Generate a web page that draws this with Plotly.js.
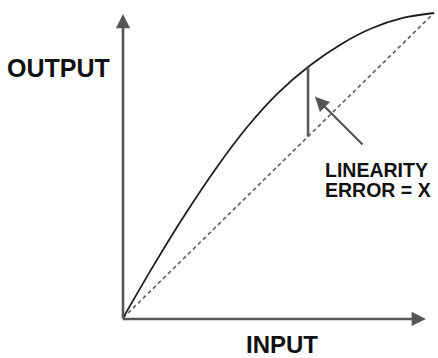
<!DOCTYPE html>
<html>
<head>
<meta charset="utf-8">
<script src="https://cdn.plot.ly/plotly-3.0.1.min.js"></script>
<style>html,body{margin:0;padding:0;background:#fff;}#chart{width:438px;height:358px;}</style>
</head>
<body>
<div id="chart"></div>
<script>
// Actual (non-linear) transfer curve
const inputValues  = [0, 10, 20, 30, 40, 50, 60, 70, 80, 90, 100];
const outputValues = [0, 17.5, 34.0, 49.2, 62.7, 73.9, 82.7, 89.7, 95.0, 98.4, 100];
// Ideal straight line (end-point)
const idealInput  = [0, 100];
const idealOutput = [0, 100];
// Linearity error marker
const errorInput = [59.5, 59.5];
const errorOutput = [59.5, 82.4];
// Labels
const xLabel = "INPUT";
const yLabel = "OUTPUT";
const noteLine1 = "LINEARITY";
const noteLine2 = "ERROR = X";

const FONT = "Liberation Sans, Arial, sans-serif";

const traces = [
  { x: idealInput, y: idealOutput, mode: "lines", type: "scatter",
    line: { color: "#666666", width: 1.7, dash: "4px,3px" }, hoverinfo: "skip" },
  { x: inputValues, y: outputValues, mode: "lines", type: "scatter",
    line: { color: "#1e1e1e", width: 1.8, shape: "spline", smoothing: 1 }, hoverinfo: "skip" },
  { x: errorInput, y: errorOutput, mode: "lines", type: "scatter",
    line: { color: "#5a5a5a", width: 2.6 }, hoverinfo: "skip" }
];

const layout = {
  width: 438, height: 358,
  margin: { l: 0, r: 0, t: 0, b: 0, pad: 0 },
  paper_bgcolor: "#ffffff", plot_bgcolor: "#ffffff",
  showlegend: false,
  xaxis: { range: [-39.55, 101.29], visible: false, fixedrange: true },
  yaxis: { range: [-13.11, 104.26], visible: false, fixedrange: true },
  annotations: [
    // y axis with arrow
    { x: 0, y: 99.7, ax: 0, ay: -0.6, xref: "x", yref: "y", axref: "x", ayref: "y",
      text: "", showarrow: true, arrowhead: 2, arrowsize: 1.1, arrowwidth: 2.6,
      arrowcolor: "#555555", standoff: 0, startstandoff: 0 },
    // x axis with arrow
    { x: 97.4, y: -0.3, ax: -0.6, ay: -0.3, xref: "x", yref: "y", axref: "x", ayref: "y",
      text: "", showarrow: true, arrowhead: 2, arrowsize: 1.1, arrowwidth: 2.6,
      arrowcolor: "#555555", standoff: 0, startstandoff: 0 },
    // pointer to error
    { x: 61.7, y: 72.5, ax: 77.5, ay: 56.4, xref: "x", yref: "y", axref: "x", ayref: "y",
      text: "", showarrow: true, arrowhead: 2, arrowsize: 1.3, arrowwidth: 2.2,
      arrowcolor: "#555555", standoff: 0, startstandoff: 0 },
    { x: -37.9, y: 82.0, xref: "x", yref: "y", xanchor: "left", yanchor: "middle",
      text: "<b>" + yLabel + "</b>", showarrow: false,
      font: { family: FONT, size: 25, color: "#111111" } },
    { x: 51.0, y: -8.6, xref: "x", yref: "y", xanchor: "center", yanchor: "middle",
      text: "<b>" + xLabel + "</b>", showarrow: false,
      font: { family: FONT, size: 24, color: "#111111" } },
    { x: 64.3, y: 48.4, xref: "x", yref: "y", xanchor: "left", yanchor: "middle",
      text: "<b>" + noteLine1 + "</b>", showarrow: false,
      font: { family: FONT, size: 19.5, color: "#111111" } },
    { x: 64.3, y: 42.1, xref: "x", yref: "y", xanchor: "left", yanchor: "middle",
      text: "<b>" + noteLine2 + "</b>", showarrow: false,
      font: { family: FONT, size: 19.5, color: "#111111" } }
  ]
};

Plotly.newPlot("chart", traces, layout, { displayModeBar: false, staticPlot: true });
</script>
</body>
</html>
